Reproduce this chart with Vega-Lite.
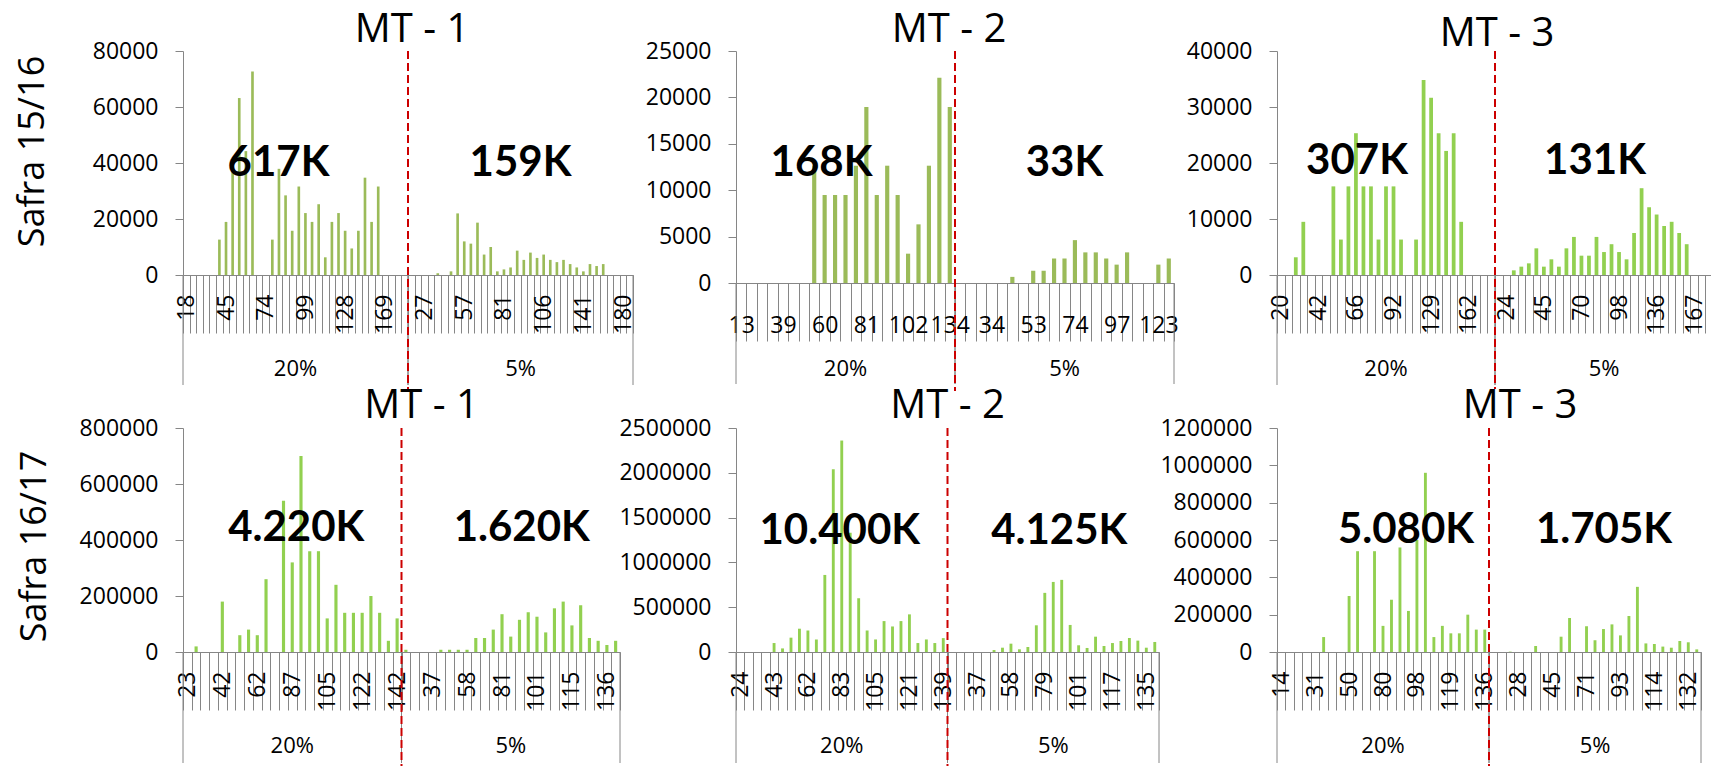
{
"$schema": "https://vega.github.io/schema/vega-lite/v6.json",
"padding": {"left": 14, "top": 10, "right": 0, "bottom": 0},
"config": {
  "view": {"stroke": null},
  "font": "Open Sans",
  "axis": {"labelFont": "Open Sans", "labelFontSize": 23, "labelColor": "#000000", "domainColor": "#868686", "tickColor": "#868686", "grid": false, "titleFont": "Open Sans", "titleFontWeight": "normal", "titleColor": "#000000", "titleFontSize": 36, "labelOverlap": false},
  "axisY": {"tickSize": 8, "labelPadding": 17, "labelOverlap": false},
  "title": {"font": "Open Sans", "fontSize": 40, "fontWeight": "normal", "color": "#000000", "frame": "group", "baseline": "alphabetic"},
  "text": {"font": "Open Sans", "color": "#000000"}
},
"datasets": {
"t1": [{"k":"a00|18","v":0},{"k":"a01|","v":0},{"k":"a02|","v":0},{"k":"a03|","v":0},{"k":"a04|","v":0},{"k":"a05|","v":12640},{"k":"a06|45","v":18960},{"k":"a07|","v":37920},{"k":"a08|","v":63200},{"k":"a09|","v":44240},{"k":"a10|","v":72680},{"k":"a11|","v":0},{"k":"a12|74","v":0},{"k":"a13|","v":12640},{"k":"a14|","v":37920},{"k":"a15|","v":28440},{"k":"a16|","v":15800},{"k":"a17|","v":31600},{"k":"a18|99","v":22120},{"k":"a19|","v":18960},{"k":"a20|","v":25280},{"k":"a21|","v":6320},{"k":"a22|","v":18960},{"k":"a23|","v":22120},{"k":"a24|128","v":15800},{"k":"a25|","v":9480},{"k":"a26|","v":15800},{"k":"a27|","v":34760},{"k":"a28|","v":18960},{"k":"a29|","v":31600},{"k":"a30|169","v":0},{"k":"a31|","v":0},{"k":"a32|","v":0},{"k":"a33|","v":0},
{"k":"b00|","v":0},{"k":"b01|","v":0},{"k":"b02|27","v":0},{"k":"b03|","v":0},{"k":"b04|","v":600},{"k":"b05|","v":0},{"k":"b06|","v":1300},{"k":"b07|","v":22000},{"k":"b08|57","v":12000},{"k":"b09|","v":11200},{"k":"b10|","v":18700},{"k":"b11|","v":7300},{"k":"b12|","v":10000},{"k":"b13|","v":1300},{"k":"b14|81","v":2000},{"k":"b15|","v":2700},{"k":"b16|","v":8700},{"k":"b17|","v":5400},{"k":"b18|","v":8000},{"k":"b19|","v":6100},{"k":"b20|106","v":7300},{"k":"b21|","v":5400},{"k":"b22|","v":4600},{"k":"b23|","v":5400},{"k":"b24|","v":3900},{"k":"b25|","v":2700},{"k":"b26|141","v":1300},{"k":"b27|","v":3900},{"k":"b28|","v":3200},{"k":"b29|","v":3900},{"k":"b30|","v":0},{"k":"b31|","v":0},{"k":"b32|180","v":0},{"k":"b33|","v":0}],
"t2": [{"k":"a00|13","v":0},{"k":"a01|","v":0},{"k":"a02|","v":0},{"k":"a03|","v":0},{"k":"a04|39","v":0},{"k":"a05|","v":0},{"k":"a06|","v":0},{"k":"a07|","v":12640},{"k":"a08|60","v":9480},{"k":"a09|","v":9480},{"k":"a10|","v":9480},{"k":"a11|","v":12640},{"k":"a12|81","v":18960},{"k":"a13|","v":9480},{"k":"a14|","v":12640},{"k":"a15|","v":9480},{"k":"a16|102","v":3160},{"k":"a17|","v":6320},{"k":"a18|","v":12640},{"k":"a19|","v":22120},{"k":"a20|134","v":18960},
{"k":"b00|","v":0},{"k":"b01|","v":0},{"k":"b02|","v":0},{"k":"b03|34","v":0},{"k":"b04|","v":0},{"k":"b05|","v":660},{"k":"b06|","v":0},{"k":"b07|53","v":1320},{"k":"b08|","v":1320},{"k":"b09|","v":2640},{"k":"b10|","v":2640},{"k":"b11|74","v":4620},{"k":"b12|","v":3300},{"k":"b13|","v":3300},{"k":"b14|","v":2640},{"k":"b15|97","v":1980},{"k":"b16|","v":3300},{"k":"b17|","v":0},{"k":"b18|","v":0},{"k":"b19|123","v":1980},{"k":"b20|","v":2640}],
"t3": [{"k":"a00|20","v":0},{"k":"a01|","v":0},{"k":"a02|","v":3165},{"k":"a03|","v":9495},{"k":"a04|","v":0},{"k":"a05|42","v":0},{"k":"a06|","v":0},{"k":"a07|","v":15825},{"k":"a08|","v":6330},{"k":"a09|","v":15825},{"k":"a10|66","v":25320},{"k":"a11|","v":15825},{"k":"a12|","v":15825},{"k":"a13|","v":6330},{"k":"a14|","v":15825},{"k":"a15|92","v":15825},{"k":"a16|","v":6330},{"k":"a17|","v":0},{"k":"a18|","v":6330},{"k":"a19|","v":34815},{"k":"a20|129","v":31650},{"k":"a21|","v":25320},{"k":"a22|","v":22155},{"k":"a23|","v":25320},{"k":"a24|","v":9495},{"k":"a25|162","v":0},{"k":"a26|","v":0},{"k":"a27|","v":0},{"k":"a28|","v":0},
{"k":"b00|","v":0},{"k":"b01|24","v":0},{"k":"b02|","v":830},{"k":"b03|","v":1490},{"k":"b04|","v":2080},{"k":"b05|","v":4760},{"k":"b06|45","v":1490},{"k":"b07|","v":2800},{"k":"b08|","v":1490},{"k":"b09|","v":4760},{"k":"b10|","v":6800},{"k":"b11|70","v":3450},{"k":"b12|","v":3450},{"k":"b13|","v":6800},{"k":"b14|","v":4100},{"k":"b15|","v":5500},{"k":"b16|98","v":4100},{"k":"b17|","v":2800},{"k":"b18|","v":7500},{"k":"b19|","v":15500},{"k":"b20|","v":12100},{"k":"b21|136","v":10800},{"k":"b22|","v":8750},{"k":"b23|","v":9500},{"k":"b24|","v":7500},{"k":"b25|","v":5500},{"k":"b26|167","v":0},{"k":"b27|","v":0},{"k":"b28|","v":0}],
"b1": [{"k":"a00|23","v":0},{"k":"a01|","v":20000},{"k":"a02|","v":0},{"k":"a03|","v":0},{"k":"a04|42","v":180000},{"k":"a05|","v":0},{"k":"a06|","v":60000},{"k":"a07|","v":80000},{"k":"a08|62","v":60000},{"k":"a09|","v":260000},{"k":"a10|","v":0},{"k":"a11|","v":540000},{"k":"a12|87","v":320000},{"k":"a13|","v":700000},{"k":"a14|","v":360000},{"k":"a15|","v":360000},{"k":"a16|105","v":120000},{"k":"a17|","v":240000},{"k":"a18|","v":140000},{"k":"a19|","v":140000},{"k":"a20|122","v":140000},{"k":"a21|","v":200000},{"k":"a22|","v":140000},{"k":"a23|","v":40000},{"k":"a24|142","v":120000},
{"k":"b00|","v":8000},{"k":"b01|","v":0},{"k":"b02|","v":0},{"k":"b03|37","v":0},{"k":"b04|","v":8000},{"k":"b05|","v":8000},{"k":"b06|","v":8000},{"k":"b07|58","v":8000},{"k":"b08|","v":50000},{"k":"b09|","v":50000},{"k":"b10|","v":80000},{"k":"b11|81","v":135000},{"k":"b12|","v":55000},{"k":"b13|","v":115000},{"k":"b14|","v":142000},{"k":"b15|101","v":126000},{"k":"b16|","v":70000},{"k":"b17|","v":156000},{"k":"b18|","v":180000},{"k":"b19|115","v":95000},{"k":"b20|","v":167000},{"k":"b21|","v":50000},{"k":"b22|","v":40000},{"k":"b23|136","v":25000},{"k":"b24|","v":40000}],
"b2": [{"k":"a00|24","v":0},{"k":"a01|","v":0},{"k":"a02|","v":0},{"k":"a03|","v":0},{"k":"a04|43","v":100000},{"k":"a05|","v":40000},{"k":"a06|","v":160000},{"k":"a07|","v":260000},{"k":"a08|62","v":240000},{"k":"a09|","v":140000},{"k":"a10|","v":860000},{"k":"a11|","v":2040000},{"k":"a12|83","v":2360000},{"k":"a13|","v":1330000},{"k":"a14|","v":600000},{"k":"a15|","v":240000},{"k":"a16|105","v":140000},{"k":"a17|","v":345000},{"k":"a18|","v":285000},{"k":"a19|","v":345000},{"k":"a20|121","v":420000},{"k":"a21|","v":100000},{"k":"a22|","v":140000},{"k":"a23|","v":100000},{"k":"a24|139","v":155000},
{"k":"b00|","v":0},{"k":"b01|","v":0},{"k":"b02|","v":0},{"k":"b03|37","v":0},{"k":"b04|","v":0},{"k":"b05|","v":22000},{"k":"b06|","v":48000},{"k":"b07|58","v":93000},{"k":"b08|","v":30000},{"k":"b09|","v":56000},{"k":"b10|","v":298000},{"k":"b11|79","v":660000},{"k":"b12|","v":782000},{"k":"b13|","v":805000},{"k":"b14|","v":302000},{"k":"b15|101","v":75000},{"k":"b16|","v":45000},{"k":"b17|","v":171000},{"k":"b18|","v":67000},{"k":"b19|117","v":100000},{"k":"b20|","v":123000},{"k":"b21|","v":156000},{"k":"b22|","v":127000},{"k":"b23|135","v":48000},{"k":"b24|","v":112000}],
"b3": [{"k":"a00|14","v":0},{"k":"a01|","v":0},{"k":"a02|","v":0},{"k":"a03|","v":0},{"k":"a04|31","v":0},{"k":"a05|","v":80000},{"k":"a06|","v":0},{"k":"a07|","v":0},{"k":"a08|50","v":300000},{"k":"a09|","v":540000},{"k":"a10|","v":0},{"k":"a11|","v":540000},{"k":"a12|80","v":140000},{"k":"a13|","v":280000},{"k":"a14|","v":560000},{"k":"a15|","v":220000},{"k":"a16|98","v":600000},{"k":"a17|","v":960000},{"k":"a18|","v":80000},{"k":"a19|","v":140000},{"k":"a20|119","v":100000},{"k":"a21|","v":100000},{"k":"a22|","v":200000},{"k":"a23|","v":120000},{"k":"a24|136","v":120000},
{"k":"b00|","v":0},{"k":"b01|","v":0},{"k":"b02|","v":2000},{"k":"b03|28","v":0},{"k":"b04|","v":0},{"k":"b05|","v":32000},{"k":"b06|","v":0},{"k":"b07|45","v":0},{"k":"b08|","v":82000},{"k":"b09|","v":182000},{"k":"b10|","v":0},{"k":"b11|71","v":138000},{"k":"b12|","v":63000},{"k":"b13|","v":123000},{"k":"b14|","v":148000},{"k":"b15|93","v":89000},{"k":"b16|","v":193000},{"k":"b17|","v":349000},{"k":"b18|","v":46000},{"k":"b19|114","v":43000},{"k":"b20|","v":29000},{"k":"b21|","v":23000},{"k":"b22|","v":59000},{"k":"b23|132","v":52000},{"k":"b24|","v":14000}],
"n1": [{"g":"20%","t":"617K"},{"g":"5%","t":"159K"}],
"n2": [{"g":"20%","t":"168K"},{"g":"5%","t":"33K"}],
"n3": [{"g":"20%","t":"307K"},{"g":"5%","t":"131K"}],
"n4": [{"g":"20%","t":"4.220K"},{"g":"5%","t":"1.620K"}],
"n5": [{"g":"20%","t":"10.400K"},{"g":"5%","t":"4.125K"}],
"n6": [{"g":"20%","t":"5.080K"},{"g":"5%","t":"1.705K"}]
},
"columns": 3,
"spacing": {"row": 145, "column": 103},
"bounds": "flush",
"resolve": {"scale": {"x": "independent", "y": "independent"}},
"concat": [
{
 "width": 450, "height": 224,
 "title": {"text": "MT - 1", "dx": 4, "offset": -10},
 "layer": [
  {"data": {"name": "t1"},
   "mark": {"type": "bar", "color": "#9BBB59", "width": {"band": 0.4}},
   "encoding": {
    "x": {"field": "k", "type": "nominal", "sort": null, "scale": {"paddingInner": 0, "paddingOuter": 0},
          "axis": {"title": null, "labelExpr": "split(datum.value, '|')[1]", "labelAngle": -90, "labelPadding": -39, "tickBand": "extent", "tickSize": 58, "labelOverlap": false}},
    "y": {"field": "v", "type": "quantitative", "scale": {"domain": [0, 80000], "nice": false},
          "axis": {"title": "Safra 15/16", "titlePadding": 41, "titleY": 100, "values": [0, 20000, 40000, 60000, 80000], "format": "d", "labelOverlap": false}}
   }},
  {"data": {"name": "n1"},
   "layer": [
    {"mark": {"type": "rule", "color": "#868686", "y2Offset": 110},
     "encoding": {"x": {"field": "g", "type": "nominal", "bandPosition": 0, "scale": {"type": "band", "paddingInner": 0, "paddingOuter": 0}, "axis": null}, "y": {"datum": 0, "axis": null}, "y2": {"datum": 0}}},
    {"mark": {"type": "rule", "color": "#868686", "y2Offset": 110},
     "encoding": {"x": {"field": "g", "type": "nominal", "bandPosition": 1, "scale": {"type": "band", "paddingInner": 0, "paddingOuter": 0}, "axis": null}, "y": {"datum": 0, "axis": null}, "y2": {"datum": 0}}},
    {"transform": [{"filter": "datum.g == '5%'"}],
     "mark": {"type": "rule", "color": "#CC0000", "strokeWidth": 2, "strokeDash": [8, 4], "y2Offset": 114},
     "encoding": {"x": {"field": "g", "type": "nominal", "bandPosition": 0, "scale": {"type": "band", "paddingInner": 0, "paddingOuter": 0}, "axis": null}, "y": {"datum": 80000, "axis": null}, "y2": {"datum": 0}}},
    {"mark": {"type": "text", "fontSize": 22, "dy": 94, "baseline": "middle"},
     "encoding": {"x": {"field": "g", "type": "nominal", "scale": {"type": "band", "paddingInner": 0, "paddingOuter": 0}, "axis": null}, "y": {"datum": 0, "axis": null}, "text": {"field": "g"}}},
    {"transform": [{"filter": "datum.g == '20%'"}],
     "mark": {"type": "text", "font": "Lato", "fontSize": 42, "fontWeight": "bold", "baseline": "alphabetic", "dx": -17},
     "encoding": {"x": {"field": "g", "type": "nominal", "scale": {"type": "band", "paddingInner": 0, "paddingOuter": 0}, "axis": null}, "y": {"datum": 35400, "axis": null}, "text": {"field": "t"}}},
    {"transform": [{"filter": "datum.g == '5%'"}],
     "mark": {"type": "text", "font": "Lato", "fontSize": 42, "fontWeight": "bold", "baseline": "alphabetic", "dx": 0},
     "encoding": {"x": {"field": "g", "type": "nominal", "scale": {"type": "band", "paddingInner": 0, "paddingOuter": 0}, "axis": null}, "y": {"datum": 35400, "axis": null}, "text": {"field": "t"}}}
   ]}
 ],
 "resolve": {"scale": {"x": "independent"}, "axis": {"y": "independent"}}
},
{
 "width": 438, "height": 232,
 "title": {"text": "MT - 2", "dx": -6, "offset": -10},
 "layer": [
  {"data": {"name": "t2"},
   "mark": {"type": "bar", "color": "#9BBB59", "width": {"band": 0.4}},
   "encoding": {
    "x": {"field": "k", "type": "nominal", "sort": null, "scale": {"paddingInner": 0, "paddingOuter": 0},
          "axis": {"title": null, "labelExpr": "split(datum.value, '|')[1]", "labelAngle": 0, "labelPadding": -27, "tickBand": "extent", "tickSize": 58, "labelOverlap": false}},
    "y": {"field": "v", "type": "quantitative", "scale": {"domain": [0, 25000], "nice": false},
          "axis": {"title": null, "values": [0, 5000, 10000, 15000, 20000, 25000], "format": "d", "labelOverlap": false}}
   }},
  {"data": {"name": "n2"},
   "layer": [
    {"mark": {"type": "rule", "color": "#868686", "y2Offset": 101},
     "encoding": {"x": {"field": "g", "type": "nominal", "bandPosition": 0, "scale": {"type": "band", "paddingInner": 0, "paddingOuter": 0}, "axis": null}, "y": {"datum": 0, "axis": null}, "y2": {"datum": 0}}},
    {"mark": {"type": "rule", "color": "#868686", "y2Offset": 101},
     "encoding": {"x": {"field": "g", "type": "nominal", "bandPosition": 1, "scale": {"type": "band", "paddingInner": 0, "paddingOuter": 0}, "axis": null}, "y": {"datum": 0, "axis": null}, "y2": {"datum": 0}}},
    {"transform": [{"filter": "datum.g == '5%'"}],
     "mark": {"type": "rule", "color": "#CC0000", "strokeWidth": 2, "strokeDash": [8, 4], "y2Offset": 108},
     "encoding": {"x": {"field": "g", "type": "nominal", "bandPosition": 0, "scale": {"type": "band", "paddingInner": 0, "paddingOuter": 0}, "axis": null}, "y": {"datum": 25000, "axis": null}, "y2": {"datum": 0}}},
    {"mark": {"type": "text", "fontSize": 22, "dy": 86, "baseline": "middle"},
     "encoding": {"x": {"field": "g", "type": "nominal", "scale": {"type": "band", "paddingInner": 0, "paddingOuter": 0}, "axis": null}, "y": {"datum": 0, "axis": null}, "text": {"field": "g"}}},
    {"transform": [{"filter": "datum.g == '20%'"}],
     "mark": {"type": "text", "font": "Lato", "fontSize": 42, "fontWeight": "bold", "baseline": "alphabetic", "dx": -24},
     "encoding": {"x": {"field": "g", "type": "nominal", "scale": {"type": "band", "paddingInner": 0, "paddingOuter": 0}, "axis": null}, "y": {"datum": 11530, "axis": null}, "text": {"field": "t"}}},
    {"transform": [{"filter": "datum.g == '5%'"}],
     "mark": {"type": "text", "font": "Lato", "fontSize": 42, "fontWeight": "bold", "baseline": "alphabetic", "dx": 0},
     "encoding": {"x": {"field": "g", "type": "nominal", "scale": {"type": "band", "paddingInner": 0, "paddingOuter": 0}, "axis": null}, "y": {"datum": 11530, "axis": null}, "text": {"field": "t"}}}
   ]}
 ],
 "resolve": {"scale": {"x": "independent"}, "axis": {"y": "independent"}}
},
{
 "width": 436, "height": 224,
 "title": {"text": "MT - 3", "dx": 2, "offset": -14},
 "layer": [
  {"data": {"name": "t3"},
   "mark": {"type": "bar", "color": "#92D050", "width": {"band": 0.5}},
   "encoding": {
    "x": {"field": "k", "type": "nominal", "sort": null, "scale": {"paddingInner": 0, "paddingOuter": 0},
          "axis": {"title": null, "labelExpr": "split(datum.value, '|')[1]", "labelAngle": -90, "labelPadding": -39, "tickBand": "extent", "tickSize": 58, "labelOverlap": false}},
    "y": {"field": "v", "type": "quantitative", "scale": {"domain": [0, 40000], "nice": false},
          "axis": {"title": null, "values": [0, 10000, 20000, 30000, 40000], "format": "d", "labelOverlap": false}}
   }},
  {"data": {"name": "n3"},
   "layer": [
    {"mark": {"type": "rule", "color": "#868686", "y2Offset": 110},
     "encoding": {"x": {"field": "g", "type": "nominal", "bandPosition": 0, "scale": {"type": "band", "paddingInner": 0, "paddingOuter": 0}, "axis": null}, "y": {"datum": 0, "axis": null}, "y2": {"datum": 0}}},
    {"mark": {"type": "rule", "color": "#868686", "y2Offset": 110},
     "encoding": {"x": {"field": "g", "type": "nominal", "bandPosition": 1, "scale": {"type": "band", "paddingInner": 0, "paddingOuter": 0}, "axis": null}, "y": {"datum": 0, "axis": null}, "y2": {"datum": 0}}},
    {"transform": [{"filter": "datum.g == '5%'"}],
     "mark": {"type": "rule", "color": "#CC0000", "strokeWidth": 2, "strokeDash": [8, 4], "y2Offset": 114},
     "encoding": {"x": {"field": "g", "type": "nominal", "bandPosition": 0, "scale": {"type": "band", "paddingInner": 0, "paddingOuter": 0}, "axis": null}, "y": {"datum": 40000, "axis": null}, "y2": {"datum": 0}}},
    {"mark": {"type": "text", "fontSize": 22, "dy": 94, "baseline": "middle"},
     "encoding": {"x": {"field": "g", "type": "nominal", "scale": {"type": "band", "paddingInner": 0, "paddingOuter": 0}, "axis": null}, "y": {"datum": 0, "axis": null}, "text": {"field": "g"}}},
    {"transform": [{"filter": "datum.g == '20%'"}],
     "mark": {"type": "text", "font": "Lato", "fontSize": 42, "fontWeight": "bold", "baseline": "alphabetic", "dx": -29},
     "encoding": {"x": {"field": "g", "type": "nominal", "scale": {"type": "band", "paddingInner": 0, "paddingOuter": 0}, "axis": null}, "y": {"datum": 18000, "axis": null}, "text": {"field": "t"}}},
    {"transform": [{"filter": "datum.g == '5%'"}],
     "mark": {"type": "text", "font": "Lato", "fontSize": 42, "fontWeight": "bold", "baseline": "alphabetic", "dx": -9},
     "encoding": {"x": {"field": "g", "type": "nominal", "scale": {"type": "band", "paddingInner": 0, "paddingOuter": 0}, "axis": null}, "y": {"datum": 18000, "axis": null}, "text": {"field": "t"}}}
   ]}
 ],
 "resolve": {"scale": {"x": "independent"}, "axis": {"y": "independent"}}
},
{
 "width": 437, "height": 224,
 "title": {"text": "MT - 1", "dx": 20, "offset": -9},
 "layer": [
  {"data": {"name": "b1"},
   "mark": {"type": "bar", "color": "#92D050", "width": {"band": 0.36}},
   "encoding": {
    "x": {"field": "k", "type": "nominal", "sort": null, "scale": {"paddingInner": 0, "paddingOuter": 0},
          "axis": {"title": null, "labelExpr": "split(datum.value, '|')[1]", "labelAngle": -90, "labelPadding": -39, "tickBand": "extent", "tickSize": 58, "labelOverlap": false}},
    "y": {"field": "v", "type": "quantitative", "scale": {"domain": [0, 800000], "nice": false},
          "axis": {"title": "Safra 16/17", "titlePadding": 26, "titleY": 118, "values": [0, 200000, 400000, 600000, 800000], "format": "d", "labelOverlap": false}}
   }},
  {"data": {"name": "n4"},
   "layer": [
    {"mark": {"type": "rule", "color": "#868686", "y2Offset": 111},
     "encoding": {"x": {"field": "g", "type": "nominal", "bandPosition": 0, "scale": {"type": "band", "paddingInner": 0, "paddingOuter": 0}, "axis": null}, "y": {"datum": 0, "axis": null}, "y2": {"datum": 0}}},
    {"mark": {"type": "rule", "color": "#868686", "y2Offset": 111},
     "encoding": {"x": {"field": "g", "type": "nominal", "bandPosition": 1, "scale": {"type": "band", "paddingInner": 0, "paddingOuter": 0}, "axis": null}, "y": {"datum": 0, "axis": null}, "y2": {"datum": 0}}},
    {"transform": [{"filter": "datum.g == '5%'"}],
     "mark": {"type": "rule", "color": "#CC0000", "strokeWidth": 2, "strokeDash": [8, 4], "y2Offset": 114},
     "encoding": {"x": {"field": "g", "type": "nominal", "bandPosition": 0, "scale": {"type": "band", "paddingInner": 0, "paddingOuter": 0}, "axis": null}, "y": {"datum": 800000, "axis": null}, "y2": {"datum": 0}}},
    {"mark": {"type": "text", "fontSize": 22, "dy": 94, "baseline": "middle"},
     "encoding": {"x": {"field": "g", "type": "nominal", "scale": {"type": "band", "paddingInner": 0, "paddingOuter": 0}, "axis": null}, "y": {"datum": 0, "axis": null}, "text": {"field": "g"}}},
    {"transform": [{"filter": "datum.g == '20%'"}],
     "mark": {"type": "text", "font": "Lato", "fontSize": 42, "fontWeight": "bold", "baseline": "alphabetic", "dx": 4},
     "encoding": {"x": {"field": "g", "type": "nominal", "scale": {"type": "band", "paddingInner": 0, "paddingOuter": 0}, "axis": null}, "y": {"datum": 395000, "axis": null}, "text": {"field": "t"}}},
    {"transform": [{"filter": "datum.g == '5%'"}],
     "mark": {"type": "text", "font": "Lato", "fontSize": 42, "fontWeight": "bold", "baseline": "alphabetic", "dx": 11},
     "encoding": {"x": {"field": "g", "type": "nominal", "scale": {"type": "band", "paddingInner": 0, "paddingOuter": 0}, "axis": null}, "y": {"datum": 395000, "axis": null}, "text": {"field": "t"}}}
   ]}
 ],
 "resolve": {"scale": {"x": "independent"}, "axis": {"y": "independent"}}
},
{
 "width": 423, "height": 224,
 "title": {"text": "MT - 2", "dx": 0, "offset": -9},
 "layer": [
  {"data": {"name": "b2"},
   "mark": {"type": "bar", "color": "#92D050", "width": {"band": 0.34}},
   "encoding": {
    "x": {"field": "k", "type": "nominal", "sort": null, "scale": {"paddingInner": 0, "paddingOuter": 0},
          "axis": {"title": null, "labelExpr": "split(datum.value, '|')[1]", "labelAngle": -90, "labelPadding": -39, "tickBand": "extent", "tickSize": 58, "labelOverlap": false}},
    "y": {"field": "v", "type": "quantitative", "scale": {"domain": [0, 2500000], "nice": false},
          "axis": {"title": null, "values": [0, 500000, 1000000, 1500000, 2000000, 2500000], "format": "d", "labelOverlap": false}}
   }},
  {"data": {"name": "n5"},
   "layer": [
    {"mark": {"type": "rule", "color": "#868686", "y2Offset": 111},
     "encoding": {"x": {"field": "g", "type": "nominal", "bandPosition": 0, "scale": {"type": "band", "paddingInner": 0, "paddingOuter": 0}, "axis": null}, "y": {"datum": 0, "axis": null}, "y2": {"datum": 0}}},
    {"mark": {"type": "rule", "color": "#868686", "y2Offset": 111},
     "encoding": {"x": {"field": "g", "type": "nominal", "bandPosition": 1, "scale": {"type": "band", "paddingInner": 0, "paddingOuter": 0}, "axis": null}, "y": {"datum": 0, "axis": null}, "y2": {"datum": 0}}},
    {"transform": [{"filter": "datum.g == '5%'"}],
     "mark": {"type": "rule", "color": "#CC0000", "strokeWidth": 2, "strokeDash": [8, 4], "y2Offset": 114},
     "encoding": {"x": {"field": "g", "type": "nominal", "bandPosition": 0, "scale": {"type": "band", "paddingInner": 0, "paddingOuter": 0}, "axis": null}, "y": {"datum": 2500000, "axis": null}, "y2": {"datum": 0}}},
    {"mark": {"type": "text", "fontSize": 22, "dy": 94, "baseline": "middle"},
     "encoding": {"x": {"field": "g", "type": "nominal", "scale": {"type": "band", "paddingInner": 0, "paddingOuter": 0}, "axis": null}, "y": {"datum": 0, "axis": null}, "text": {"field": "g"}}},
    {"transform": [{"filter": "datum.g == '20%'"}],
     "mark": {"type": "text", "font": "Lato", "fontSize": 42, "fontWeight": "bold", "baseline": "alphabetic", "dx": -2},
     "encoding": {"x": {"field": "g", "type": "nominal", "scale": {"type": "band", "paddingInner": 0, "paddingOuter": 0}, "axis": null}, "y": {"datum": 1200000, "axis": null}, "text": {"field": "t"}}},
    {"transform": [{"filter": "datum.g == '5%'"}],
     "mark": {"type": "text", "font": "Lato", "fontSize": 42, "fontWeight": "bold", "baseline": "alphabetic", "dx": 6},
     "encoding": {"x": {"field": "g", "type": "nominal", "scale": {"type": "band", "paddingInner": 0, "paddingOuter": 0}, "axis": null}, "y": {"datum": 1200000, "axis": null}, "text": {"field": "t"}}}
   ]}
 ],
 "resolve": {"scale": {"x": "independent"}, "axis": {"y": "independent"}}
},
{
 "width": 424, "height": 224,
 "title": {"text": "MT - 3", "dx": 31, "offset": -9},
 "layer": [
  {"data": {"name": "b3"},
   "mark": {"type": "bar", "color": "#92D050", "width": {"band": 0.34}},
   "encoding": {
    "x": {"field": "k", "type": "nominal", "sort": null, "scale": {"paddingInner": 0, "paddingOuter": 0},
          "axis": {"title": null, "labelExpr": "split(datum.value, '|')[1]", "labelAngle": -90, "labelPadding": -39, "tickBand": "extent", "tickSize": 58, "labelOverlap": false}},
    "y": {"field": "v", "type": "quantitative", "scale": {"domain": [0, 1200000], "nice": false},
          "axis": {"title": null, "values": [0, 200000, 400000, 600000, 800000, 1000000, 1200000], "format": "d", "labelOverlap": false}}
   }},
  {"data": {"name": "n6"},
   "layer": [
    {"mark": {"type": "rule", "color": "#868686", "y2Offset": 111},
     "encoding": {"x": {"field": "g", "type": "nominal", "bandPosition": 0, "scale": {"type": "band", "paddingInner": 0, "paddingOuter": 0}, "axis": null}, "y": {"datum": 0, "axis": null}, "y2": {"datum": 0}}},
    {"mark": {"type": "rule", "color": "#868686", "y2Offset": 111},
     "encoding": {"x": {"field": "g", "type": "nominal", "bandPosition": 1, "scale": {"type": "band", "paddingInner": 0, "paddingOuter": 0}, "axis": null}, "y": {"datum": 0, "axis": null}, "y2": {"datum": 0}}},
    {"transform": [{"filter": "datum.g == '5%'"}],
     "mark": {"type": "rule", "color": "#CC0000", "strokeWidth": 2, "strokeDash": [8, 4], "y2Offset": 114},
     "encoding": {"x": {"field": "g", "type": "nominal", "bandPosition": 0, "scale": {"type": "band", "paddingInner": 0, "paddingOuter": 0}, "axis": null}, "y": {"datum": 1200000, "axis": null}, "y2": {"datum": 0}}},
    {"mark": {"type": "text", "fontSize": 22, "dy": 94, "baseline": "middle"},
     "encoding": {"x": {"field": "g", "type": "nominal", "scale": {"type": "band", "paddingInner": 0, "paddingOuter": 0}, "axis": null}, "y": {"datum": 0, "axis": null}, "text": {"field": "g"}}},
    {"transform": [{"filter": "datum.g == '20%'"}],
     "mark": {"type": "text", "font": "Lato", "fontSize": 42, "fontWeight": "bold", "baseline": "alphabetic", "dx": 23},
     "encoding": {"x": {"field": "g", "type": "nominal", "scale": {"type": "band", "paddingInner": 0, "paddingOuter": 0}, "axis": null}, "y": {"datum": 585000, "axis": null}, "text": {"field": "t"}}},
    {"transform": [{"filter": "datum.g == '5%'"}],
     "mark": {"type": "text", "font": "Lato", "fontSize": 42, "fontWeight": "bold", "baseline": "alphabetic", "dx": 9},
     "encoding": {"x": {"field": "g", "type": "nominal", "scale": {"type": "band", "paddingInner": 0, "paddingOuter": 0}, "axis": null}, "y": {"datum": 585000, "axis": null}, "text": {"field": "t"}}}
   ]}
 ],
 "resolve": {"scale": {"x": "independent"}, "axis": {"y": "independent"}}
}
]
}
